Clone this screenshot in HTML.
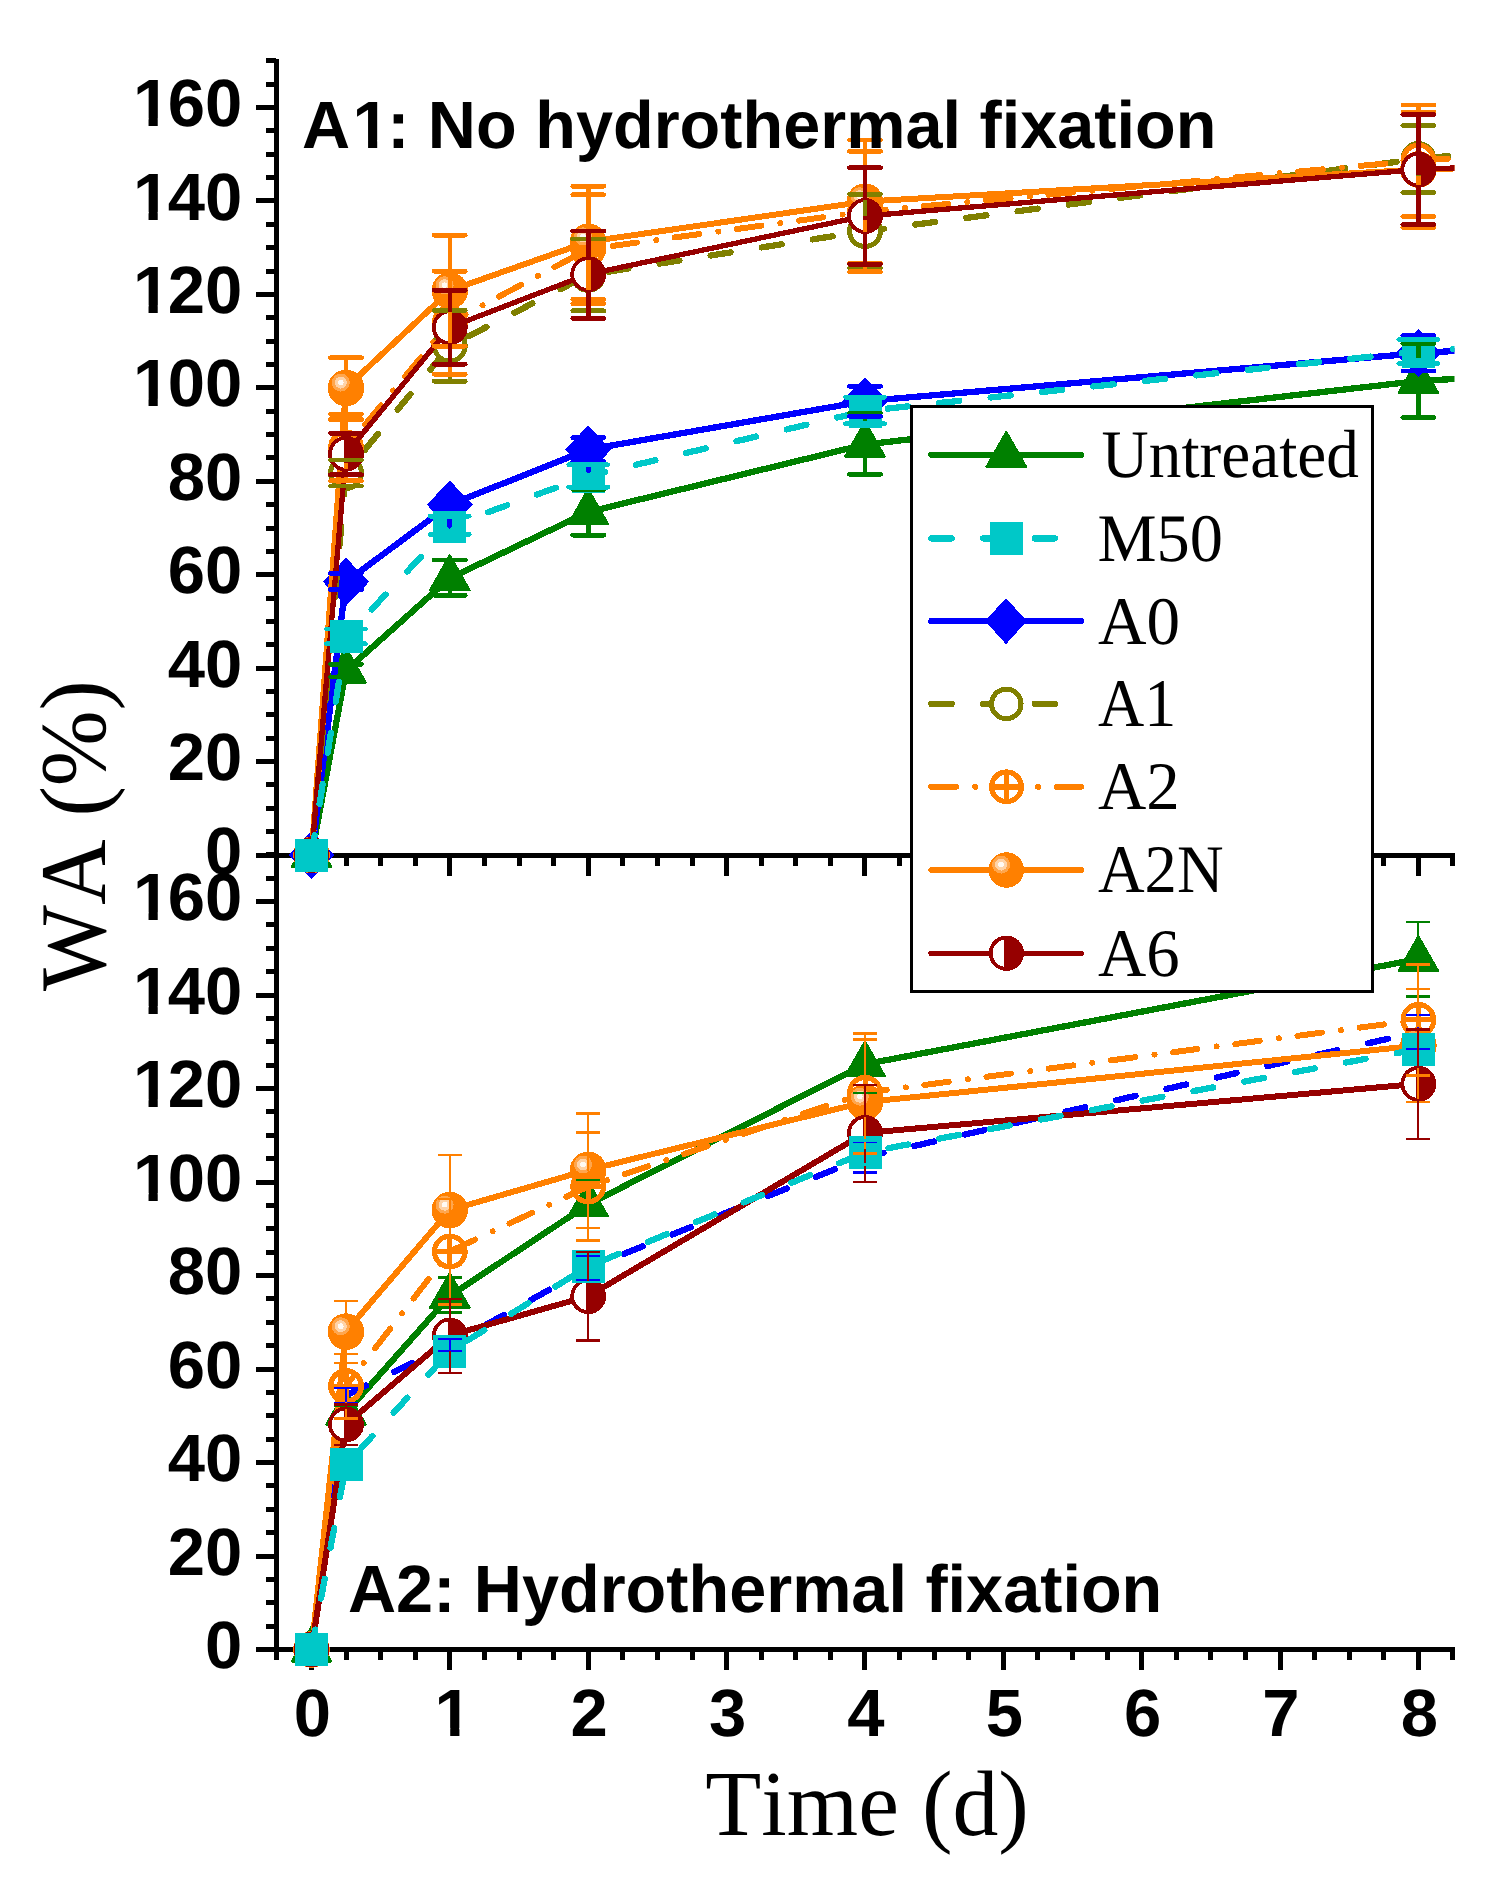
<!DOCTYPE html>
<html><head><meta charset="utf-8"><title>WA vs Time</title>
<style>
html,body{margin:0;padding:0;background:#fff}
svg{display:block}
.sb{font-family:"Liberation Sans",Arial,sans-serif;font-weight:bold;font-size:67px;fill:#000}
.sr{font-family:"Liberation Serif","Times New Roman",serif;fill:#000;font-kerning:none}
</style></head><body>
<svg width="1500" height="1892" viewBox="0 0 1500 1892" shape-rendering="crispEdges" text-rendering="geometricPrecision">
<defs><clipPath id="cl"><rect x="270" y="40" width="1184.5" height="840"/></clipPath></defs>
<rect width="1500" height="1892" fill="#fff"/>
<g id="axes-top"><rect x="274" y="59.0" width="5" height="798.5" fill="#000"/><rect x="274" y="852.5" width="1181" height="5" fill="#000"/><rect x="256" y="852.5" width="20" height="5" fill="#000"/><rect x="266" y="829.1" width="10" height="5" fill="#000"/><rect x="266" y="805.8" width="10" height="5" fill="#000"/><rect x="266" y="782.4" width="10" height="5" fill="#000"/><rect x="256" y="759.1" width="20" height="5" fill="#000"/><rect x="266" y="735.7" width="10" height="5" fill="#000"/><rect x="266" y="712.3" width="10" height="5" fill="#000"/><rect x="266" y="689.0" width="10" height="5" fill="#000"/><rect x="256" y="665.6" width="20" height="5" fill="#000"/><rect x="266" y="642.3" width="10" height="5" fill="#000"/><rect x="266" y="618.9" width="10" height="5" fill="#000"/><rect x="266" y="595.5" width="10" height="5" fill="#000"/><rect x="256" y="572.2" width="20" height="5" fill="#000"/><rect x="266" y="548.8" width="10" height="5" fill="#000"/><rect x="266" y="525.5" width="10" height="5" fill="#000"/><rect x="266" y="502.1" width="10" height="5" fill="#000"/><rect x="256" y="478.7" width="20" height="5" fill="#000"/><rect x="266" y="455.4" width="10" height="5" fill="#000"/><rect x="266" y="432.0" width="10" height="5" fill="#000"/><rect x="266" y="408.7" width="10" height="5" fill="#000"/><rect x="256" y="385.3" width="20" height="5" fill="#000"/><rect x="266" y="361.9" width="10" height="5" fill="#000"/><rect x="266" y="338.6" width="10" height="5" fill="#000"/><rect x="266" y="315.2" width="10" height="5" fill="#000"/><rect x="256" y="291.9" width="20" height="5" fill="#000"/><rect x="266" y="268.5" width="10" height="5" fill="#000"/><rect x="266" y="245.1" width="10" height="5" fill="#000"/><rect x="266" y="221.8" width="10" height="5" fill="#000"/><rect x="256" y="198.4" width="20" height="5" fill="#000"/><rect x="266" y="175.1" width="10" height="5" fill="#000"/><rect x="266" y="151.7" width="10" height="5" fill="#000"/><rect x="266" y="128.3" width="10" height="5" fill="#000"/><rect x="256" y="105.0" width="20" height="5" fill="#000"/><rect x="266" y="81.6" width="10" height="5" fill="#000"/><rect x="266" y="58.3" width="10" height="5" fill="#000"/><rect x="274.0" y="855.0" width="5" height="10.5" fill="#000"/><rect x="308.9" y="855.0" width="5" height="20.5" fill="#000"/><rect x="343.5" y="855.0" width="5" height="10.5" fill="#000"/><rect x="378.1" y="855.0" width="5" height="10.5" fill="#000"/><rect x="412.7" y="855.0" width="5" height="10.5" fill="#000"/><rect x="447.3" y="855.0" width="5" height="20.5" fill="#000"/><rect x="481.9" y="855.0" width="5" height="10.5" fill="#000"/><rect x="516.5" y="855.0" width="5" height="10.5" fill="#000"/><rect x="551.1" y="855.0" width="5" height="10.5" fill="#000"/><rect x="585.7" y="855.0" width="5" height="20.5" fill="#000"/><rect x="620.3" y="855.0" width="5" height="10.5" fill="#000"/><rect x="654.9" y="855.0" width="5" height="10.5" fill="#000"/><rect x="689.5" y="855.0" width="5" height="10.5" fill="#000"/><rect x="724.1" y="855.0" width="5" height="20.5" fill="#000"/><rect x="758.7" y="855.0" width="5" height="10.5" fill="#000"/><rect x="793.2" y="855.0" width="5" height="10.5" fill="#000"/><rect x="827.8" y="855.0" width="5" height="10.5" fill="#000"/><rect x="862.4" y="855.0" width="5" height="20.5" fill="#000"/><rect x="897.0" y="855.0" width="5" height="10.5" fill="#000"/><rect x="931.6" y="855.0" width="5" height="10.5" fill="#000"/><rect x="966.2" y="855.0" width="5" height="10.5" fill="#000"/><rect x="1000.8" y="855.0" width="5" height="20.5" fill="#000"/><rect x="1035.4" y="855.0" width="5" height="10.5" fill="#000"/><rect x="1070.0" y="855.0" width="5" height="10.5" fill="#000"/><rect x="1104.6" y="855.0" width="5" height="10.5" fill="#000"/><rect x="1139.2" y="855.0" width="5" height="20.5" fill="#000"/><rect x="1173.8" y="855.0" width="5" height="10.5" fill="#000"/><rect x="1208.4" y="855.0" width="5" height="10.5" fill="#000"/><rect x="1242.9" y="855.0" width="5" height="10.5" fill="#000"/><rect x="1277.5" y="855.0" width="5" height="20.5" fill="#000"/><rect x="1312.1" y="855.0" width="5" height="10.5" fill="#000"/><rect x="1346.7" y="855.0" width="5" height="10.5" fill="#000"/><rect x="1381.3" y="855.0" width="5" height="10.5" fill="#000"/><rect x="1415.9" y="855.0" width="5" height="20.5" fill="#000"/><rect x="1450.0" y="855.0" width="5" height="10.5" fill="#000"/></g>
<g id="plot-top" shape-rendering="crispEdges"><path d="M311.5 855.0 L346.0 670.6 L449.8 578.2 L588.2 512.0 L865.0 444.5 L1418.4 381.0 L1475.0 377.8" fill="none" stroke="#008000" stroke-width="6.3" stroke-linecap="round" stroke-linejoin="round" clip-path="url(#cl)"/><polygon points="311.5,832.0 291.6,867.0 331.4,867.0" fill="#008000" stroke="#008000" stroke-width="2" stroke-linejoin="round"/><polygon points="346.0,647.6 326.1,682.6 365.9,682.6" fill="#008000" stroke="#008000" stroke-width="2" stroke-linejoin="round"/><polygon points="449.8,555.2 429.9,590.2 469.7,590.2" fill="#008000" stroke="#008000" stroke-width="2" stroke-linejoin="round"/><polygon points="588.2,489.0 568.3,524.0 608.1,524.0" fill="#008000" stroke="#008000" stroke-width="2" stroke-linejoin="round"/><polygon points="865.0,421.5 845.1,456.5 884.9,456.5" fill="#008000" stroke="#008000" stroke-width="2" stroke-linejoin="round"/><polygon points="1418.4,358.0 1398.5,393.0 1438.3,393.0" fill="#008000" stroke="#008000" stroke-width="2" stroke-linejoin="round"/>
<path d="M311.5 855.0 L346.0 581.9 L449.8 504.7 L588.2 449.6 L865.0 401.2 L1418.4 353.2 L1475.0 349.7" fill="none" stroke="#0000ff" stroke-width="6.3" stroke-linecap="round" stroke-linejoin="round" clip-path="url(#cl)"/><polygon points="311.5,830.8 334.5,855.0 311.5,879.2 288.5,855.0" fill="#0000ff"/><polygon points="346.0,557.7 369.0,581.9 346.0,606.1 323.0,581.9" fill="#0000ff"/><polygon points="449.8,480.5 472.8,504.7 449.8,528.9 426.8,504.7" fill="#0000ff"/><polygon points="588.2,425.4 611.2,449.6 588.2,473.8 565.2,449.6" fill="#0000ff"/><polygon points="865.0,377.0 888.0,401.2 865.0,425.4 842.0,401.2" fill="#0000ff"/><polygon points="1418.4,329.0 1441.4,353.2 1418.4,377.4 1395.4,353.2" fill="#0000ff"/>
<path d="M311.5 855.0 L346.0 473.0 L449.8 345.8 L588.2 274.9 L865.0 231.1 L1418.4 159.0 L1475.0 153.4" fill="none" stroke="#808000" stroke-width="6.3" stroke-linecap="round" stroke-linejoin="round" stroke-dasharray="20.2 31.5" clip-path="url(#cl)"/><circle cx="311.5" cy="855.0" r="15.4" fill="#fff" stroke="#808000" stroke-width="5"/><circle cx="346.0" cy="473.0" r="15.4" fill="#fff" stroke="#808000" stroke-width="5"/><circle cx="449.8" cy="345.8" r="15.4" fill="#fff" stroke="#808000" stroke-width="5"/><circle cx="588.2" cy="274.9" r="15.4" fill="#fff" stroke="#808000" stroke-width="5"/><circle cx="865.0" cy="231.1" r="15.4" fill="#fff" stroke="#808000" stroke-width="5"/><circle cx="1418.4" cy="159.0" r="15.4" fill="#fff" stroke="#808000" stroke-width="5"/>
<path d="M311.5 855.0 L346.0 447.5 L449.8 322.7 L588.2 249.2 L865.0 211.6 L1418.4 160.5 L1475.0 157.3" fill="none" stroke="#ff8000" stroke-width="6" stroke-linecap="round" stroke-linejoin="round" stroke-dasharray="24.7 19.3 0.01 18.7" clip-path="url(#cl)"/><circle cx="311.5" cy="855.0" r="15.3" fill="none" stroke="#ff8000" stroke-width="5.2"/><path d="M296.2 855.0H326.8M311.5 839.7V870.3" stroke="#ff8000" stroke-width="5" fill="none"/><circle cx="346.0" cy="447.5" r="15.3" fill="none" stroke="#ff8000" stroke-width="5.2"/><path d="M330.7 447.5H361.3M346.0 432.2V462.8" stroke="#ff8000" stroke-width="5" fill="none"/><circle cx="449.8" cy="322.7" r="15.3" fill="none" stroke="#ff8000" stroke-width="5.2"/><path d="M434.5 322.7H465.1M449.8 307.4V338.0" stroke="#ff8000" stroke-width="5" fill="none"/><circle cx="588.2" cy="249.2" r="15.3" fill="none" stroke="#ff8000" stroke-width="5.2"/><path d="M572.9 249.2H603.5M588.2 233.9V264.5" stroke="#ff8000" stroke-width="5" fill="none"/><circle cx="865.0" cy="211.6" r="15.3" fill="none" stroke="#ff8000" stroke-width="5.2"/><path d="M849.7 211.6H880.3M865.0 196.3V226.9" stroke="#ff8000" stroke-width="5" fill="none"/><circle cx="1418.4" cy="160.5" r="15.3" fill="none" stroke="#ff8000" stroke-width="5.2"/><path d="M1403.1 160.5H1433.7M1418.4 145.2V175.8" stroke="#ff8000" stroke-width="5" fill="none"/>
<path d="M311.5 855.0 L346.0 388.0 L449.8 290.6 L588.2 241.7 L865.0 201.6 L1418.4 169.5 L1475.0 167.9" fill="none" stroke="#ff8000" stroke-width="6" stroke-linecap="round" stroke-linejoin="round" clip-path="url(#cl)"/><circle cx="311.5" cy="855.0" r="18.3" fill="#ff8000"/><circle cx="306.3" cy="849.6" r="9" fill="#ffa64d"/><circle cx="306.3" cy="849.6" r="6" fill="#ffd3a8"/><circle cx="306.3" cy="849.6" r="2.8" fill="#fffaf5"/><circle cx="346.0" cy="388.0" r="18.3" fill="#ff8000"/><circle cx="340.8" cy="382.6" r="9" fill="#ffa64d"/><circle cx="340.8" cy="382.6" r="6" fill="#ffd3a8"/><circle cx="340.8" cy="382.6" r="2.8" fill="#fffaf5"/><circle cx="449.8" cy="290.6" r="18.3" fill="#ff8000"/><circle cx="444.6" cy="285.2" r="9" fill="#ffa64d"/><circle cx="444.6" cy="285.2" r="6" fill="#ffd3a8"/><circle cx="444.6" cy="285.2" r="2.8" fill="#fffaf5"/><circle cx="588.2" cy="241.7" r="18.3" fill="#ff8000"/><circle cx="583.0" cy="236.3" r="9" fill="#ffa64d"/><circle cx="583.0" cy="236.3" r="6" fill="#ffd3a8"/><circle cx="583.0" cy="236.3" r="2.8" fill="#fffaf5"/><circle cx="865.0" cy="201.6" r="18.3" fill="#ff8000"/><circle cx="859.8" cy="196.2" r="9" fill="#ffa64d"/><circle cx="859.8" cy="196.2" r="6" fill="#ffd3a8"/><circle cx="859.8" cy="196.2" r="2.8" fill="#fffaf5"/><circle cx="1418.4" cy="169.5" r="18.3" fill="#ff8000"/><circle cx="1413.2" cy="164.1" r="9" fill="#ffa64d"/><circle cx="1413.2" cy="164.1" r="6" fill="#ffd3a8"/><circle cx="1413.2" cy="164.1" r="2.8" fill="#fffaf5"/>
<path d="M311.5 855.0 L346.0 453.8 L449.8 327.3 L588.2 274.2 L865.0 216.0 L1418.4 169.5 L1475.0 167.1" fill="none" stroke="#960000" stroke-width="5.3" stroke-linecap="round" stroke-linejoin="round" clip-path="url(#cl)"/><circle cx="311.5" cy="855.0" r="16" fill="#fff" stroke="#960000" stroke-width="3.8"/><path d="M309.2 839.0H311.5A16 16 0 0 1 311.5 871.0H309.2Z" fill="#960000"/><circle cx="346.0" cy="453.8" r="16" fill="#fff" stroke="#960000" stroke-width="3.8"/><path d="M343.7 437.8H346.0A16 16 0 0 1 346.0 469.8H343.7Z" fill="#960000"/><circle cx="449.8" cy="327.3" r="16" fill="#fff" stroke="#960000" stroke-width="3.8"/><path d="M447.5 311.3H449.8A16 16 0 0 1 449.8 343.3H447.5Z" fill="#960000"/><circle cx="588.2" cy="274.2" r="16" fill="#fff" stroke="#960000" stroke-width="3.8"/><path d="M585.9 258.2H588.2A16 16 0 0 1 588.2 290.2H585.9Z" fill="#960000"/><circle cx="865.0" cy="216.0" r="16" fill="#fff" stroke="#960000" stroke-width="3.8"/><path d="M862.7 200.0H865.0A16 16 0 0 1 865.0 232.0H862.7Z" fill="#960000"/><circle cx="1418.4" cy="169.5" r="16" fill="#fff" stroke="#960000" stroke-width="3.8"/><path d="M1416.1 153.5H1418.4A16 16 0 0 1 1418.4 185.5H1416.1Z" fill="#960000"/>
<path d="M311.5 855.0 L346.0 636.8 L449.8 526.0 L588.2 476.0 L865.0 411.0 L1418.4 351.5 L1475.0 347.5" fill="none" stroke="#00c8c8" stroke-width="6.3" stroke-linecap="round" stroke-linejoin="round" stroke-dasharray="20.2 31.5" clip-path="url(#cl)"/><rect x="295.0" y="838.5" width="33" height="33" fill="#00c8c8"/><rect x="329.5" y="620.3" width="33" height="33" fill="#00c8c8"/><rect x="433.3" y="509.5" width="33" height="33" fill="#00c8c8"/><rect x="571.7" y="459.5" width="33" height="33" fill="#00c8c8"/><rect x="848.5" y="394.5" width="33" height="33" fill="#00c8c8"/><rect x="1401.9" y="335.0" width="33" height="33" fill="#00c8c8"/>
<path d="M330.5 664.2H361.5" stroke="#008000" stroke-width="4.8" stroke-linecap="round" fill="none"/><path d="M330.5 677.0H361.5" stroke="#008000" stroke-width="4.8" stroke-linecap="round" fill="none"/><path d="M449.8 590.7V595.2" stroke="#008000" stroke-width="4.6" fill="none"/><path d="M434.3 560.0H465.3" stroke="#008000" stroke-width="4.8" stroke-linecap="round" fill="none"/><path d="M434.3 595.2H465.3" stroke="#008000" stroke-width="4.8" stroke-linecap="round" fill="none"/><path d="M588.2 524.5V535.1" stroke="#008000" stroke-width="4.6" fill="none"/><path d="M572.7 489.4H603.7" stroke="#008000" stroke-width="4.8" stroke-linecap="round" fill="none"/><path d="M572.7 535.1H603.7" stroke="#008000" stroke-width="4.8" stroke-linecap="round" fill="none"/><path d="M865.0 413.2V421.5" stroke="#008000" stroke-width="4.6" fill="none"/><path d="M865.0 457.0V474.4" stroke="#008000" stroke-width="4.6" fill="none"/><path d="M849.5 413.2H880.5" stroke="#008000" stroke-width="4.8" stroke-linecap="round" fill="none"/><path d="M849.5 474.4H880.5" stroke="#008000" stroke-width="4.8" stroke-linecap="round" fill="none"/><path d="M1418.4 343.5V358.0" stroke="#008000" stroke-width="4.6" fill="none"/><path d="M1418.4 393.5V417.5" stroke="#008000" stroke-width="4.6" fill="none"/><path d="M1402.9 343.5H1433.9" stroke="#008000" stroke-width="4.8" stroke-linecap="round" fill="none"/><path d="M1402.9 417.5H1433.9" stroke="#008000" stroke-width="4.8" stroke-linecap="round" fill="none"/>
<path d="M330.5 573.3H361.5" stroke="#0000ff" stroke-width="4.8" stroke-linecap="round" fill="none"/><path d="M330.5 589.5H361.5" stroke="#0000ff" stroke-width="4.8" stroke-linecap="round" fill="none"/><path d="M434.3 500.5H465.3" stroke="#0000ff" stroke-width="4.8" stroke-linecap="round" fill="none"/><path d="M434.3 509.0H465.3" stroke="#0000ff" stroke-width="4.8" stroke-linecap="round" fill="none"/><path d="M572.7 437.6H603.7" stroke="#0000ff" stroke-width="4.8" stroke-linecap="round" fill="none"/><path d="M572.7 461.6H603.7" stroke="#0000ff" stroke-width="4.8" stroke-linecap="round" fill="none"/><path d="M849.5 386.4H880.5" stroke="#0000ff" stroke-width="4.8" stroke-linecap="round" fill="none"/><path d="M849.5 416.4H880.5" stroke="#0000ff" stroke-width="4.8" stroke-linecap="round" fill="none"/><path d="M1402.9 335.5H1433.9" stroke="#0000ff" stroke-width="4.8" stroke-linecap="round" fill="none"/><path d="M1402.9 371.0H1433.9" stroke="#0000ff" stroke-width="4.8" stroke-linecap="round" fill="none"/>
<path d="M330.5 460.0H361.5" stroke="#808000" stroke-width="4.8" stroke-linecap="round" fill="none"/><path d="M330.5 486.0H361.5" stroke="#808000" stroke-width="4.8" stroke-linecap="round" fill="none"/><path d="M449.8 310.4V330.2" stroke="#808000" stroke-width="4.6" fill="none"/><path d="M449.8 361.4V381.2" stroke="#808000" stroke-width="4.6" fill="none"/><path d="M434.3 310.4H465.3" stroke="#808000" stroke-width="4.8" stroke-linecap="round" fill="none"/><path d="M434.3 381.2H465.3" stroke="#808000" stroke-width="4.8" stroke-linecap="round" fill="none"/><path d="M588.2 239.0V259.3" stroke="#808000" stroke-width="4.6" fill="none"/><path d="M588.2 290.5V310.8" stroke="#808000" stroke-width="4.6" fill="none"/><path d="M572.7 239.0H603.7" stroke="#808000" stroke-width="4.8" stroke-linecap="round" fill="none"/><path d="M572.7 310.8H603.7" stroke="#808000" stroke-width="4.8" stroke-linecap="round" fill="none"/><path d="M865.0 194.2V215.5" stroke="#808000" stroke-width="4.6" fill="none"/><path d="M865.0 246.7V268.0" stroke="#808000" stroke-width="4.6" fill="none"/><path d="M849.5 194.2H880.5" stroke="#808000" stroke-width="4.8" stroke-linecap="round" fill="none"/><path d="M849.5 268.0H880.5" stroke="#808000" stroke-width="4.8" stroke-linecap="round" fill="none"/><path d="M1418.4 125.5V143.4" stroke="#808000" stroke-width="4.6" fill="none"/><path d="M1418.4 174.6V192.5" stroke="#808000" stroke-width="4.6" fill="none"/><path d="M1402.9 125.5H1433.9" stroke="#808000" stroke-width="4.8" stroke-linecap="round" fill="none"/><path d="M1402.9 192.5H1433.9" stroke="#808000" stroke-width="4.8" stroke-linecap="round" fill="none"/>
<path d="M346.0 414.2V431.9" stroke="#ff8000" stroke-width="4.6" fill="none"/><path d="M346.0 463.1V480.8" stroke="#ff8000" stroke-width="4.6" fill="none"/><path d="M330.5 414.2H361.5" stroke="#ff8000" stroke-width="4.8" stroke-linecap="round" fill="none"/><path d="M330.5 480.8H361.5" stroke="#ff8000" stroke-width="4.8" stroke-linecap="round" fill="none"/><path d="M449.8 271.3V307.1" stroke="#ff8000" stroke-width="4.6" fill="none"/><path d="M449.8 338.3V374.2" stroke="#ff8000" stroke-width="4.6" fill="none"/><path d="M434.3 271.3H465.3" stroke="#ff8000" stroke-width="4.8" stroke-linecap="round" fill="none"/><path d="M434.3 374.2H465.3" stroke="#ff8000" stroke-width="4.8" stroke-linecap="round" fill="none"/><path d="M588.2 194.7V233.6" stroke="#ff8000" stroke-width="4.6" fill="none"/><path d="M588.2 264.8V303.7" stroke="#ff8000" stroke-width="4.6" fill="none"/><path d="M572.7 194.7H603.7" stroke="#ff8000" stroke-width="4.8" stroke-linecap="round" fill="none"/><path d="M572.7 303.7H603.7" stroke="#ff8000" stroke-width="4.8" stroke-linecap="round" fill="none"/><path d="M865.0 151.4V196.0" stroke="#ff8000" stroke-width="4.6" fill="none"/><path d="M865.0 227.2V271.8" stroke="#ff8000" stroke-width="4.6" fill="none"/><path d="M849.5 151.4H880.5" stroke="#ff8000" stroke-width="4.8" stroke-linecap="round" fill="none"/><path d="M849.5 271.8H880.5" stroke="#ff8000" stroke-width="4.8" stroke-linecap="round" fill="none"/><path d="M1418.4 105.0V144.9" stroke="#ff8000" stroke-width="4.6" fill="none"/><path d="M1418.4 176.1V216.5" stroke="#ff8000" stroke-width="4.6" fill="none"/><path d="M1402.9 105.0H1433.9" stroke="#ff8000" stroke-width="4.8" stroke-linecap="round" fill="none"/><path d="M1402.9 216.5H1433.9" stroke="#ff8000" stroke-width="4.8" stroke-linecap="round" fill="none"/>
<path d="M346.0 357.6V369.7" stroke="#ff8000" stroke-width="4.6" fill="none"/><path d="M346.0 406.3V419.5" stroke="#ff8000" stroke-width="4.6" fill="none"/><path d="M330.5 357.6H361.5" stroke="#ff8000" stroke-width="4.8" stroke-linecap="round" fill="none"/><path d="M330.5 419.5H361.5" stroke="#ff8000" stroke-width="4.8" stroke-linecap="round" fill="none"/><path d="M449.8 235.1V272.3" stroke="#ff8000" stroke-width="4.6" fill="none"/><path d="M449.8 308.9V346.1" stroke="#ff8000" stroke-width="4.6" fill="none"/><path d="M434.3 235.1H465.3" stroke="#ff8000" stroke-width="4.8" stroke-linecap="round" fill="none"/><path d="M434.3 346.1H465.3" stroke="#ff8000" stroke-width="4.8" stroke-linecap="round" fill="none"/><path d="M588.2 186.2V223.4" stroke="#ff8000" stroke-width="4.6" fill="none"/><path d="M588.2 260.0V299.4" stroke="#ff8000" stroke-width="4.6" fill="none"/><path d="M572.7 186.2H603.7" stroke="#ff8000" stroke-width="4.8" stroke-linecap="round" fill="none"/><path d="M572.7 299.4H603.7" stroke="#ff8000" stroke-width="4.8" stroke-linecap="round" fill="none"/><path d="M865.0 140.0V183.3" stroke="#ff8000" stroke-width="4.6" fill="none"/><path d="M865.0 219.9V263.2" stroke="#ff8000" stroke-width="4.6" fill="none"/><path d="M849.5 140.0H880.5" stroke="#ff8000" stroke-width="4.8" stroke-linecap="round" fill="none"/><path d="M849.5 263.2H880.5" stroke="#ff8000" stroke-width="4.8" stroke-linecap="round" fill="none"/><path d="M1418.4 112.0V151.2" stroke="#ff8000" stroke-width="4.6" fill="none"/><path d="M1418.4 187.8V227.5" stroke="#ff8000" stroke-width="4.6" fill="none"/><path d="M1402.9 112.0H1433.9" stroke="#ff8000" stroke-width="4.8" stroke-linecap="round" fill="none"/><path d="M1402.9 227.5H1433.9" stroke="#ff8000" stroke-width="4.8" stroke-linecap="round" fill="none"/>
<path d="M346.0 433.2V438.2" stroke="#960000" stroke-width="4.6" fill="none"/><path d="M346.0 469.4V474.6" stroke="#960000" stroke-width="4.6" fill="none"/><path d="M330.5 433.2H361.5" stroke="#960000" stroke-width="4.8" stroke-linecap="round" fill="none"/><path d="M330.5 474.6H361.5" stroke="#960000" stroke-width="4.8" stroke-linecap="round" fill="none"/><path d="M449.8 290.3V311.7" stroke="#960000" stroke-width="4.6" fill="none"/><path d="M449.8 342.9V364.1" stroke="#960000" stroke-width="4.6" fill="none"/><path d="M434.3 290.3H465.3" stroke="#960000" stroke-width="4.8" stroke-linecap="round" fill="none"/><path d="M434.3 364.1H465.3" stroke="#960000" stroke-width="4.8" stroke-linecap="round" fill="none"/><path d="M588.2 230.9V258.6" stroke="#960000" stroke-width="4.6" fill="none"/><path d="M588.2 289.8V318.4" stroke="#960000" stroke-width="4.6" fill="none"/><path d="M572.7 230.9H603.7" stroke="#960000" stroke-width="4.8" stroke-linecap="round" fill="none"/><path d="M572.7 318.4H603.7" stroke="#960000" stroke-width="4.8" stroke-linecap="round" fill="none"/><path d="M865.0 167.6V200.4" stroke="#960000" stroke-width="4.6" fill="none"/><path d="M865.0 231.6V264.1" stroke="#960000" stroke-width="4.6" fill="none"/><path d="M849.5 167.6H880.5" stroke="#960000" stroke-width="4.8" stroke-linecap="round" fill="none"/><path d="M849.5 264.1H880.5" stroke="#960000" stroke-width="4.8" stroke-linecap="round" fill="none"/><path d="M1418.4 114.5V153.9" stroke="#960000" stroke-width="4.6" fill="none"/><path d="M1418.4 185.1V224.5" stroke="#960000" stroke-width="4.6" fill="none"/><path d="M1402.9 114.5H1433.9" stroke="#960000" stroke-width="4.8" stroke-linecap="round" fill="none"/><path d="M1402.9 224.5H1433.9" stroke="#960000" stroke-width="4.8" stroke-linecap="round" fill="none"/>
<path d="M326.5 629.0H365.5" stroke="#00c8c8" stroke-width="4.8" stroke-linecap="round" fill="none"/><path d="M326.5 643.7H365.5" stroke="#00c8c8" stroke-width="4.8" stroke-linecap="round" fill="none"/><path d="M430.3 516.1H469.3" stroke="#00c8c8" stroke-width="4.8" stroke-linecap="round" fill="none"/><path d="M430.3 534.5H469.3" stroke="#00c8c8" stroke-width="4.8" stroke-linecap="round" fill="none"/><path d="M568.7 464.7H607.7" stroke="#00c8c8" stroke-width="4.8" stroke-linecap="round" fill="none"/><path d="M568.7 487.1H607.7" stroke="#00c8c8" stroke-width="4.8" stroke-linecap="round" fill="none"/><path d="M845.5 397.2H884.5" stroke="#00c8c8" stroke-width="4.8" stroke-linecap="round" fill="none"/><path d="M845.5 423.6H884.5" stroke="#00c8c8" stroke-width="4.8" stroke-linecap="round" fill="none"/><path d="M1398.9 339.5H1437.9" stroke="#00c8c8" stroke-width="4.8" stroke-linecap="round" fill="none"/><path d="M1398.9 363.5H1437.9" stroke="#00c8c8" stroke-width="4.8" stroke-linecap="round" fill="none"/>
<polygon points="447.4,518.5 452.2,518.5 452.2,526.6 449.8,528.9 447.4,526.6" fill="#0000ff"/><polygon points="585.8,467.1 590.6,467.1 590.6,471.5 588.2,473.8 585.8,471.5" fill="#0000ff"/></g>
<g id="axes-bottom"><rect x="274" y="855.0" width="5" height="797.0" fill="#000"/><rect x="274" y="1647.0" width="1181" height="5" fill="#000"/><rect x="256" y="1647.0" width="20" height="5" fill="#000"/><rect x="266" y="1623.6" width="10" height="5" fill="#000"/><rect x="266" y="1600.2" width="10" height="5" fill="#000"/><rect x="266" y="1576.9" width="10" height="5" fill="#000"/><rect x="256" y="1553.5" width="20" height="5" fill="#000"/><rect x="266" y="1530.1" width="10" height="5" fill="#000"/><rect x="266" y="1506.8" width="10" height="5" fill="#000"/><rect x="266" y="1483.4" width="10" height="5" fill="#000"/><rect x="256" y="1460.0" width="20" height="5" fill="#000"/><rect x="266" y="1436.6" width="10" height="5" fill="#000"/><rect x="266" y="1413.2" width="10" height="5" fill="#000"/><rect x="266" y="1389.9" width="10" height="5" fill="#000"/><rect x="256" y="1366.5" width="20" height="5" fill="#000"/><rect x="266" y="1343.1" width="10" height="5" fill="#000"/><rect x="266" y="1319.8" width="10" height="5" fill="#000"/><rect x="266" y="1296.4" width="10" height="5" fill="#000"/><rect x="256" y="1273.0" width="20" height="5" fill="#000"/><rect x="266" y="1249.6" width="10" height="5" fill="#000"/><rect x="266" y="1226.2" width="10" height="5" fill="#000"/><rect x="266" y="1202.9" width="10" height="5" fill="#000"/><rect x="256" y="1179.5" width="20" height="5" fill="#000"/><rect x="266" y="1156.1" width="10" height="5" fill="#000"/><rect x="266" y="1132.8" width="10" height="5" fill="#000"/><rect x="266" y="1109.4" width="10" height="5" fill="#000"/><rect x="256" y="1086.0" width="20" height="5" fill="#000"/><rect x="266" y="1062.6" width="10" height="5" fill="#000"/><rect x="266" y="1039.2" width="10" height="5" fill="#000"/><rect x="266" y="1015.9" width="10" height="5" fill="#000"/><rect x="256" y="992.5" width="20" height="5" fill="#000"/><rect x="266" y="969.1" width="10" height="5" fill="#000"/><rect x="266" y="945.8" width="10" height="5" fill="#000"/><rect x="266" y="922.4" width="10" height="5" fill="#000"/><rect x="256" y="899.0" width="20" height="5" fill="#000"/><rect x="266" y="875.6" width="10" height="5" fill="#000"/><rect x="266" y="852.2" width="10" height="5" fill="#000"/><rect x="274.0" y="1649.5" width="5" height="10.5" fill="#000"/><rect x="308.9" y="1649.5" width="5" height="20.5" fill="#000"/><rect x="343.5" y="1649.5" width="5" height="10.5" fill="#000"/><rect x="378.1" y="1649.5" width="5" height="10.5" fill="#000"/><rect x="412.7" y="1649.5" width="5" height="10.5" fill="#000"/><rect x="447.3" y="1649.5" width="5" height="20.5" fill="#000"/><rect x="481.9" y="1649.5" width="5" height="10.5" fill="#000"/><rect x="516.5" y="1649.5" width="5" height="10.5" fill="#000"/><rect x="551.1" y="1649.5" width="5" height="10.5" fill="#000"/><rect x="585.7" y="1649.5" width="5" height="20.5" fill="#000"/><rect x="620.3" y="1649.5" width="5" height="10.5" fill="#000"/><rect x="654.9" y="1649.5" width="5" height="10.5" fill="#000"/><rect x="689.5" y="1649.5" width="5" height="10.5" fill="#000"/><rect x="724.1" y="1649.5" width="5" height="20.5" fill="#000"/><rect x="758.7" y="1649.5" width="5" height="10.5" fill="#000"/><rect x="793.2" y="1649.5" width="5" height="10.5" fill="#000"/><rect x="827.8" y="1649.5" width="5" height="10.5" fill="#000"/><rect x="862.4" y="1649.5" width="5" height="20.5" fill="#000"/><rect x="897.0" y="1649.5" width="5" height="10.5" fill="#000"/><rect x="931.6" y="1649.5" width="5" height="10.5" fill="#000"/><rect x="966.2" y="1649.5" width="5" height="10.5" fill="#000"/><rect x="1000.8" y="1649.5" width="5" height="20.5" fill="#000"/><rect x="1035.4" y="1649.5" width="5" height="10.5" fill="#000"/><rect x="1070.0" y="1649.5" width="5" height="10.5" fill="#000"/><rect x="1104.6" y="1649.5" width="5" height="10.5" fill="#000"/><rect x="1139.2" y="1649.5" width="5" height="20.5" fill="#000"/><rect x="1173.8" y="1649.5" width="5" height="10.5" fill="#000"/><rect x="1208.4" y="1649.5" width="5" height="10.5" fill="#000"/><rect x="1242.9" y="1649.5" width="5" height="10.5" fill="#000"/><rect x="1277.5" y="1649.5" width="5" height="20.5" fill="#000"/><rect x="1312.1" y="1649.5" width="5" height="10.5" fill="#000"/><rect x="1346.7" y="1649.5" width="5" height="10.5" fill="#000"/><rect x="1381.3" y="1649.5" width="5" height="10.5" fill="#000"/><rect x="1415.9" y="1649.5" width="5" height="20.5" fill="#000"/><rect x="1450.0" y="1649.5" width="5" height="10.5" fill="#000"/></g>
<g id="plot-bottom"><path d="M311.5 1649.5 L346.0 1412.7 L449.8 1295.8 L588.2 1204.4 L865.0 1064.2 L1418.4 959.1" fill="none" stroke="#008000" stroke-width="6.3" stroke-linecap="round" stroke-linejoin="round"/><polygon points="311.5,1626.5 291.6,1661.5 331.4,1661.5" fill="#008000" stroke="#008000" stroke-width="2" stroke-linejoin="round"/><polygon points="346.0,1389.7 326.1,1424.7 365.9,1424.7" fill="#008000" stroke="#008000" stroke-width="2" stroke-linejoin="round"/><polygon points="449.8,1272.8 429.9,1307.8 469.7,1307.8" fill="#008000" stroke="#008000" stroke-width="2" stroke-linejoin="round"/><polygon points="588.2,1181.4 568.3,1216.4 608.1,1216.4" fill="#008000" stroke="#008000" stroke-width="2" stroke-linejoin="round"/><polygon points="865.0,1041.2 845.1,1076.2 884.9,1076.2" fill="#008000" stroke="#008000" stroke-width="2" stroke-linejoin="round"/><polygon points="1418.4,936.1 1398.5,971.1 1438.3,971.1" fill="#008000" stroke="#008000" stroke-width="2" stroke-linejoin="round"/>
<path d="M311.5 1649.5 L346.0 1395.4 L449.8 1344.8 L588.2 1268.2 L865.0 1157.1 L1418.4 1031.9" fill="none" stroke="#0000ff" stroke-width="6.3" stroke-linecap="round" stroke-linejoin="round" stroke-dasharray="20.2 31.5"/>
<path d="M311.5 1649.5 L346.0 1386.0 L449.8 1251.5 L588.2 1186.5 L865.0 1092.8 L1418.4 1019.9" fill="none" stroke="#ff8000" stroke-width="6" stroke-linecap="round" stroke-linejoin="round" stroke-dasharray="24.7 19.3 0.01 18.7"/><circle cx="311.5" cy="1649.5" r="15.3" fill="none" stroke="#ff8000" stroke-width="5.2"/><path d="M296.2 1649.5H326.8M311.5 1634.2V1664.8" stroke="#ff8000" stroke-width="5" fill="none"/><circle cx="346.0" cy="1386.0" r="15.3" fill="none" stroke="#ff8000" stroke-width="5.2"/><path d="M330.7 1386.0H361.3M346.0 1370.7V1401.3" stroke="#ff8000" stroke-width="5" fill="none"/><circle cx="449.8" cy="1251.5" r="15.3" fill="none" stroke="#ff8000" stroke-width="5.2"/><path d="M434.5 1251.5H465.1M449.8 1236.2V1266.8" stroke="#ff8000" stroke-width="5" fill="none"/><circle cx="588.2" cy="1186.5" r="15.3" fill="none" stroke="#ff8000" stroke-width="5.2"/><path d="M572.9 1186.5H603.5M588.2 1171.2V1201.8" stroke="#ff8000" stroke-width="5" fill="none"/><circle cx="865.0" cy="1092.8" r="15.3" fill="none" stroke="#ff8000" stroke-width="5.2"/><path d="M849.7 1092.8H880.3M865.0 1077.5V1108.1" stroke="#ff8000" stroke-width="5" fill="none"/><circle cx="1418.4" cy="1019.9" r="15.3" fill="none" stroke="#ff8000" stroke-width="5.2"/><path d="M1403.1 1019.9H1433.7M1418.4 1004.6V1035.2" stroke="#ff8000" stroke-width="5" fill="none"/>
<path d="M311.5 1649.5 L346.0 1331.6 L449.8 1210.1 L588.2 1169.9 L865.0 1102.1 L1418.4 1045.5" fill="none" stroke="#ff8000" stroke-width="6" stroke-linecap="round" stroke-linejoin="round"/><circle cx="311.5" cy="1649.5" r="18.3" fill="#ff8000"/><circle cx="306.3" cy="1644.1" r="9" fill="#ffa64d"/><circle cx="306.3" cy="1644.1" r="6" fill="#ffd3a8"/><circle cx="306.3" cy="1644.1" r="2.8" fill="#fffaf5"/><circle cx="346.0" cy="1331.6" r="18.3" fill="#ff8000"/><circle cx="340.8" cy="1326.2" r="9" fill="#ffa64d"/><circle cx="340.8" cy="1326.2" r="6" fill="#ffd3a8"/><circle cx="340.8" cy="1326.2" r="2.8" fill="#fffaf5"/><circle cx="449.8" cy="1210.1" r="18.3" fill="#ff8000"/><circle cx="444.6" cy="1204.7" r="9" fill="#ffa64d"/><circle cx="444.6" cy="1204.7" r="6" fill="#ffd3a8"/><circle cx="444.6" cy="1204.7" r="2.8" fill="#fffaf5"/><circle cx="588.2" cy="1169.9" r="18.3" fill="#ff8000"/><circle cx="583.0" cy="1164.5" r="9" fill="#ffa64d"/><circle cx="583.0" cy="1164.5" r="6" fill="#ffd3a8"/><circle cx="583.0" cy="1164.5" r="2.8" fill="#fffaf5"/><circle cx="865.0" cy="1102.1" r="18.3" fill="#ff8000"/><circle cx="859.8" cy="1096.7" r="9" fill="#ffa64d"/><circle cx="859.8" cy="1096.7" r="6" fill="#ffd3a8"/><circle cx="859.8" cy="1096.7" r="2.8" fill="#fffaf5"/><circle cx="1418.4" cy="1045.5" r="18.3" fill="#ff8000"/><circle cx="1413.2" cy="1040.1" r="9" fill="#ffa64d"/><circle cx="1413.2" cy="1040.1" r="6" fill="#ffd3a8"/><circle cx="1413.2" cy="1040.1" r="2.8" fill="#fffaf5"/>
<path d="M311.5 1649.5 L346.0 1424.5 L449.8 1335.5 L588.2 1296.2 L865.0 1133.0 L1418.4 1083.8" fill="none" stroke="#960000" stroke-width="6" stroke-linecap="round" stroke-linejoin="round"/><circle cx="311.5" cy="1649.5" r="16" fill="#fff" stroke="#960000" stroke-width="3.8"/><path d="M309.2 1633.5H311.5A16 16 0 0 1 311.5 1665.5H309.2Z" fill="#960000"/><circle cx="346.0" cy="1424.5" r="16" fill="#fff" stroke="#960000" stroke-width="3.8"/><path d="M343.7 1408.5H346.0A16 16 0 0 1 346.0 1440.5H343.7Z" fill="#960000"/><circle cx="449.8" cy="1335.5" r="16" fill="#fff" stroke="#960000" stroke-width="3.8"/><path d="M447.5 1319.5H449.8A16 16 0 0 1 449.8 1351.5H447.5Z" fill="#960000"/><circle cx="588.2" cy="1296.2" r="16" fill="#fff" stroke="#960000" stroke-width="3.8"/><path d="M585.9 1280.2H588.2A16 16 0 0 1 588.2 1312.2H585.9Z" fill="#960000"/><circle cx="865.0" cy="1133.0" r="16" fill="#fff" stroke="#960000" stroke-width="3.8"/><path d="M862.7 1117.0H865.0A16 16 0 0 1 865.0 1149.0H862.7Z" fill="#960000"/><circle cx="1418.4" cy="1083.8" r="16" fill="#fff" stroke="#960000" stroke-width="3.8"/><path d="M1416.1 1067.8H1418.4A16 16 0 0 1 1418.4 1099.8H1416.1Z" fill="#960000"/>
<path d="M311.5 1649.5 L346.0 1464.9 L449.8 1351.3 L588.2 1266.5 L865.0 1152.5 L1418.4 1049.0" fill="none" stroke="#00c8c8" stroke-width="6.3" stroke-linecap="round" stroke-linejoin="round" stroke-dasharray="20.2 31.5"/><rect x="295.0" y="1633.0" width="33" height="33" fill="#00c8c8"/><rect x="329.5" y="1448.4" width="33" height="33" fill="#00c8c8"/><rect x="433.3" y="1334.8" width="33" height="33" fill="#00c8c8"/><rect x="571.7" y="1250.0" width="33" height="33" fill="#00c8c8"/><rect x="848.5" y="1136.0" width="33" height="33" fill="#00c8c8"/><rect x="1401.9" y="1032.5" width="33" height="33" fill="#00c8c8"/>
<path d="M334.0 1406.2H358.0" stroke="#008000" stroke-width="2.4" stroke-linecap="butt" fill="none"/><path d="M334.0 1418.4H358.0" stroke="#008000" stroke-width="2.4" stroke-linecap="butt" fill="none"/><path d="M449.8 1308.3V1312.5" stroke="#008000" stroke-width="2" fill="none"/><path d="M437.8 1277.5H461.8" stroke="#008000" stroke-width="2.4" stroke-linecap="butt" fill="none"/><path d="M437.8 1312.5H461.8" stroke="#008000" stroke-width="2.4" stroke-linecap="butt" fill="none"/><path d="M588.2 1179.9V1181.4" stroke="#008000" stroke-width="2" fill="none"/><path d="M588.2 1216.9V1228.1" stroke="#008000" stroke-width="2" fill="none"/><path d="M576.2 1179.9H600.2" stroke="#008000" stroke-width="2.4" stroke-linecap="butt" fill="none"/><path d="M576.2 1228.1H600.2" stroke="#008000" stroke-width="2.4" stroke-linecap="butt" fill="none"/><path d="M865.0 1033.6V1041.2" stroke="#008000" stroke-width="2" fill="none"/><path d="M865.0 1076.7V1092.8" stroke="#008000" stroke-width="2" fill="none"/><path d="M853.0 1033.6H877.0" stroke="#008000" stroke-width="2.4" stroke-linecap="butt" fill="none"/><path d="M853.0 1092.8H877.0" stroke="#008000" stroke-width="2.4" stroke-linecap="butt" fill="none"/><path d="M1418.4 922.0V936.1" stroke="#008000" stroke-width="2" fill="none"/><path d="M1418.4 971.6V996.6" stroke="#008000" stroke-width="2" fill="none"/><path d="M1406.4 922.0H1430.4" stroke="#008000" stroke-width="2.4" stroke-linecap="butt" fill="none"/><path d="M1406.4 996.6H1430.4" stroke="#008000" stroke-width="2.4" stroke-linecap="butt" fill="none"/>
<path d="M346.0 1388.1V1395.4" stroke="#0000ff" stroke-width="2" fill="none"/><path d="M346.0 1395.4V1402.7" stroke="#0000ff" stroke-width="2" fill="none"/><path d="M334.0 1388.1H358.0" stroke="#0000ff" stroke-width="2.4" stroke-linecap="butt" fill="none"/><path d="M334.0 1402.7H358.0" stroke="#0000ff" stroke-width="2.4" stroke-linecap="butt" fill="none"/><path d="M449.8 1338.9V1344.8" stroke="#0000ff" stroke-width="2" fill="none"/><path d="M449.8 1344.8V1350.7" stroke="#0000ff" stroke-width="2" fill="none"/><path d="M437.8 1338.9H461.8" stroke="#0000ff" stroke-width="2.4" stroke-linecap="butt" fill="none"/><path d="M437.8 1350.7H461.8" stroke="#0000ff" stroke-width="2.4" stroke-linecap="butt" fill="none"/><path d="M588.2 1256.2V1268.2" stroke="#0000ff" stroke-width="2" fill="none"/><path d="M588.2 1268.2V1280.1" stroke="#0000ff" stroke-width="2" fill="none"/><path d="M576.2 1256.2H600.2" stroke="#0000ff" stroke-width="2.4" stroke-linecap="butt" fill="none"/><path d="M576.2 1280.1H600.2" stroke="#0000ff" stroke-width="2.4" stroke-linecap="butt" fill="none"/><path d="M865.0 1141.8V1157.1" stroke="#0000ff" stroke-width="2" fill="none"/><path d="M865.0 1157.1V1172.5" stroke="#0000ff" stroke-width="2" fill="none"/><path d="M853.0 1141.8H877.0" stroke="#0000ff" stroke-width="2.4" stroke-linecap="butt" fill="none"/><path d="M853.0 1172.5H877.0" stroke="#0000ff" stroke-width="2.4" stroke-linecap="butt" fill="none"/><path d="M1418.4 1014.7V1031.9" stroke="#0000ff" stroke-width="2" fill="none"/><path d="M1418.4 1031.9V1049.0" stroke="#0000ff" stroke-width="2" fill="none"/><path d="M1406.4 1014.7H1430.4" stroke="#0000ff" stroke-width="2.4" stroke-linecap="butt" fill="none"/><path d="M1406.4 1049.0H1430.4" stroke="#0000ff" stroke-width="2.4" stroke-linecap="butt" fill="none"/>
<path d="M346.0 1353.8V1370.4" stroke="#ff8000" stroke-width="2" fill="none"/><path d="M346.0 1401.6V1418.3" stroke="#ff8000" stroke-width="2" fill="none"/><path d="M334.0 1353.8H358.0" stroke="#ff8000" stroke-width="2.4" stroke-linecap="butt" fill="none"/><path d="M334.0 1418.3H358.0" stroke="#ff8000" stroke-width="2.4" stroke-linecap="butt" fill="none"/><path d="M449.8 1198.7V1235.9" stroke="#ff8000" stroke-width="2" fill="none"/><path d="M449.8 1267.1V1304.3" stroke="#ff8000" stroke-width="2" fill="none"/><path d="M437.8 1198.7H461.8" stroke="#ff8000" stroke-width="2.4" stroke-linecap="butt" fill="none"/><path d="M437.8 1304.3H461.8" stroke="#ff8000" stroke-width="2.4" stroke-linecap="butt" fill="none"/><path d="M588.2 1132.5V1170.9" stroke="#ff8000" stroke-width="2" fill="none"/><path d="M588.2 1202.1V1240.5" stroke="#ff8000" stroke-width="2" fill="none"/><path d="M576.2 1132.5H600.2" stroke="#ff8000" stroke-width="2.4" stroke-linecap="butt" fill="none"/><path d="M576.2 1240.5H600.2" stroke="#ff8000" stroke-width="2.4" stroke-linecap="butt" fill="none"/><path d="M865.0 1033.6V1077.2" stroke="#ff8000" stroke-width="2" fill="none"/><path d="M865.0 1108.4V1153.6" stroke="#ff8000" stroke-width="2" fill="none"/><path d="M853.0 1033.6H877.0" stroke="#ff8000" stroke-width="2.4" stroke-linecap="butt" fill="none"/><path d="M853.0 1153.6H877.0" stroke="#ff8000" stroke-width="2.4" stroke-linecap="butt" fill="none"/><path d="M1418.4 964.3V1004.3" stroke="#ff8000" stroke-width="2" fill="none"/><path d="M1418.4 1035.5V1075.5" stroke="#ff8000" stroke-width="2" fill="none"/><path d="M1406.4 964.3H1430.4" stroke="#ff8000" stroke-width="2.4" stroke-linecap="butt" fill="none"/><path d="M1406.4 1075.5H1430.4" stroke="#ff8000" stroke-width="2.4" stroke-linecap="butt" fill="none"/>
<path d="M346.0 1300.9V1313.3" stroke="#ff8000" stroke-width="2" fill="none"/><path d="M346.0 1349.9V1363.1" stroke="#ff8000" stroke-width="2" fill="none"/><path d="M334.0 1300.9H358.0" stroke="#ff8000" stroke-width="2.4" stroke-linecap="butt" fill="none"/><path d="M334.0 1363.1H358.0" stroke="#ff8000" stroke-width="2.4" stroke-linecap="butt" fill="none"/><path d="M449.8 1155.1V1191.8" stroke="#ff8000" stroke-width="2" fill="none"/><path d="M449.8 1228.4V1265.1" stroke="#ff8000" stroke-width="2" fill="none"/><path d="M437.8 1155.1H461.8" stroke="#ff8000" stroke-width="2.4" stroke-linecap="butt" fill="none"/><path d="M437.8 1265.1H461.8" stroke="#ff8000" stroke-width="2.4" stroke-linecap="butt" fill="none"/><path d="M588.2 1113.5V1151.6" stroke="#ff8000" stroke-width="2" fill="none"/><path d="M588.2 1188.2V1227.7" stroke="#ff8000" stroke-width="2" fill="none"/><path d="M576.2 1113.5H600.2" stroke="#ff8000" stroke-width="2.4" stroke-linecap="butt" fill="none"/><path d="M576.2 1227.7H600.2" stroke="#ff8000" stroke-width="2.4" stroke-linecap="butt" fill="none"/><path d="M865.0 1039.6V1083.8" stroke="#ff8000" stroke-width="2" fill="none"/><path d="M865.0 1120.4V1164.6" stroke="#ff8000" stroke-width="2" fill="none"/><path d="M853.0 1039.6H877.0" stroke="#ff8000" stroke-width="2.4" stroke-linecap="butt" fill="none"/><path d="M853.0 1164.6H877.0" stroke="#ff8000" stroke-width="2.4" stroke-linecap="butt" fill="none"/><path d="M1418.4 989.0V1027.2" stroke="#ff8000" stroke-width="2" fill="none"/><path d="M1418.4 1063.8V1101.9" stroke="#ff8000" stroke-width="2" fill="none"/><path d="M1406.4 989.0H1430.4" stroke="#ff8000" stroke-width="2.4" stroke-linecap="butt" fill="none"/><path d="M1406.4 1101.9H1430.4" stroke="#ff8000" stroke-width="2.4" stroke-linecap="butt" fill="none"/>
<path d="M346.0 1404.4V1408.9" stroke="#960000" stroke-width="2" fill="none"/><path d="M346.0 1440.1V1445.1" stroke="#960000" stroke-width="2" fill="none"/><path d="M334.0 1404.4H358.0" stroke="#960000" stroke-width="2.4" stroke-linecap="butt" fill="none"/><path d="M334.0 1445.1H358.0" stroke="#960000" stroke-width="2.4" stroke-linecap="butt" fill="none"/><path d="M449.8 1298.8V1319.9" stroke="#960000" stroke-width="2" fill="none"/><path d="M449.8 1351.1V1373.0" stroke="#960000" stroke-width="2" fill="none"/><path d="M437.8 1298.8H461.8" stroke="#960000" stroke-width="2.4" stroke-linecap="butt" fill="none"/><path d="M437.8 1373.0H461.8" stroke="#960000" stroke-width="2.4" stroke-linecap="butt" fill="none"/><path d="M588.2 1252.0V1280.6" stroke="#960000" stroke-width="2" fill="none"/><path d="M588.2 1311.8V1340.4" stroke="#960000" stroke-width="2" fill="none"/><path d="M576.2 1252.0H600.2" stroke="#960000" stroke-width="2.4" stroke-linecap="butt" fill="none"/><path d="M576.2 1340.4H600.2" stroke="#960000" stroke-width="2.4" stroke-linecap="butt" fill="none"/><path d="M865.0 1084.8V1117.4" stroke="#960000" stroke-width="2" fill="none"/><path d="M865.0 1148.6V1181.7" stroke="#960000" stroke-width="2" fill="none"/><path d="M853.0 1084.8H877.0" stroke="#960000" stroke-width="2.4" stroke-linecap="butt" fill="none"/><path d="M853.0 1181.7H877.0" stroke="#960000" stroke-width="2.4" stroke-linecap="butt" fill="none"/><path d="M1418.4 1029.5V1068.2" stroke="#960000" stroke-width="2" fill="none"/><path d="M1418.4 1099.4V1139.0" stroke="#960000" stroke-width="2" fill="none"/><path d="M1406.4 1029.5H1430.4" stroke="#960000" stroke-width="2.4" stroke-linecap="butt" fill="none"/><path d="M1406.4 1139.0H1430.4" stroke="#960000" stroke-width="2.4" stroke-linecap="butt" fill="none"/>
<path d="M853.0 1140.4H877.0" stroke="#00c8c8" stroke-width="2.4" stroke-linecap="butt" fill="none"/><path d="M853.0 1164.6H877.0" stroke="#00c8c8" stroke-width="2.4" stroke-linecap="butt" fill="none"/>
</g>
<g id="legend"><rect x="911.5" y="406.5" width="461" height="585" fill="#fff" stroke="#000" stroke-width="3"/><path d="M931.4 454.8 L1080.8 454.8" fill="none" stroke="#008000" stroke-width="6.3" stroke-linecap="round" stroke-linejoin="round"/><polygon points="1006.3,431.8 986.4,466.8 1026.2,466.8" fill="#008000" stroke="#008000" stroke-width="2" stroke-linejoin="round"/><path d="M931.4 538.4 L1080.8 538.4" fill="none" stroke="#00c8c8" stroke-width="6.3" stroke-linecap="round" stroke-linejoin="round" stroke-dasharray="20.2 31.5"/><rect x="989.8" y="521.9" width="33" height="33" fill="#00c8c8"/><path d="M931.4 621.1 L1080.8 621.1" fill="none" stroke="#0000ff" stroke-width="6.3" stroke-linecap="round" stroke-linejoin="round"/><polygon points="1006.0,598.0 1026.9,621.1 1006.0,644.2 985.1,621.1" fill="#0000ff"/><path d="M931.4 703.9 L1080.8 703.9" fill="none" stroke="#808000" stroke-width="6.3" stroke-linecap="round" stroke-linejoin="round" stroke-dasharray="20.2 31.5"/><circle cx="1006.3" cy="703.9" r="14.75" fill="#fff" stroke="#808000" stroke-width="5"/><path d="M931.3 786.8 L1081.0 786.8" fill="none" stroke="#ff8000" stroke-width="6" stroke-linecap="round" stroke-linejoin="round" stroke-dasharray="24.7 19.3 0.01 18.7"/><circle cx="1006.5" cy="786.8" r="14.85" fill="none" stroke="#ff8000" stroke-width="5.2"/><path d="M991.6 786.8H1021.4M1006.5 771.9V801.6" stroke="#ff8000" stroke-width="5" fill="none"/><path d="M931.2 870.0 L1081.1 870.0" fill="none" stroke="#ff8000" stroke-width="5.8" stroke-linecap="round" stroke-linejoin="round"/><circle cx="1006.3" cy="870.0" r="17.75" fill="#ff8000"/><circle cx="1001.1" cy="864.6" r="9" fill="#ffa64d"/><circle cx="1001.1" cy="864.6" r="6" fill="#ffd3a8"/><circle cx="1001.1" cy="864.6" r="2.8" fill="#fffaf5"/><path d="M930.9 953.2 L1081.3 953.2" fill="none" stroke="#960000" stroke-width="5.3" stroke-linecap="round" stroke-linejoin="round"/><circle cx="1006.4" cy="953.2" r="15.7" fill="#fff" stroke="#960000" stroke-width="3.8"/><path d="M1004.1 937.5H1006.4A15.7 15.7 0 0 1 1006.4 968.9H1004.1Z" fill="#960000"/></g>
<text class="sr" x="1101.6" y="477.2" font-size="68" textLength="257.4" lengthAdjust="spacingAndGlyphs">Untreated</text><text class="sr" x="1097.5" y="560.8" font-size="68" textLength="125.4" lengthAdjust="spacingAndGlyphs">M50</text><text class="sr" x="1098" y="643.5" font-size="68" textLength="82.1" lengthAdjust="spacingAndGlyphs">A0</text><text class="sr" x="1098" y="726.3" font-size="68" textLength="78.2" lengthAdjust="spacingAndGlyphs">A1</text><text class="sr" x="1098" y="809.2" font-size="68" textLength="81.7" lengthAdjust="spacingAndGlyphs">A2</text><text class="sr" x="1098" y="892.4" font-size="68" textLength="125.5" lengthAdjust="spacingAndGlyphs">A2N</text><text class="sr" x="1098" y="975.6" font-size="68" textLength="81.7" lengthAdjust="spacingAndGlyphs">A6</text>
<text class="sb" x="242.3" y="873.6" text-anchor="end">0</text><text class="sb" x="242.3" y="780.2" text-anchor="end">20</text><text class="sb" x="242.3" y="686.7" text-anchor="end">40</text><text class="sb" x="242.3" y="593.3" text-anchor="end">60</text><text class="sb" x="242.3" y="499.8" text-anchor="end">80</text><text class="sb" x="239.9" y="406.4" text-anchor="end"><tspan dx="2.4">1</tspan><tspan dx="-2.4">00</tspan></text><text class="sb" x="239.9" y="313.0" text-anchor="end"><tspan dx="2.4">1</tspan><tspan dx="-2.4">20</tspan></text><text class="sb" x="239.9" y="219.5" text-anchor="end"><tspan dx="2.4">1</tspan><tspan dx="-2.4">40</tspan></text><text class="sb" x="239.9" y="126.1" text-anchor="end"><tspan dx="2.4">1</tspan><tspan dx="-2.4">60</tspan></text><text class="sb" x="242.3" y="1668.1" text-anchor="end">0</text><text class="sb" x="242.3" y="1574.6" text-anchor="end">20</text><text class="sb" x="242.3" y="1481.1" text-anchor="end">40</text><text class="sb" x="242.3" y="1387.6" text-anchor="end">60</text><text class="sb" x="242.3" y="1294.1" text-anchor="end">80</text><text class="sb" x="239.9" y="1200.6" text-anchor="end"><tspan dx="2.4">1</tspan><tspan dx="-2.4">00</tspan></text><text class="sb" x="239.9" y="1107.1" text-anchor="end"><tspan dx="2.4">1</tspan><tspan dx="-2.4">20</tspan></text><text class="sb" x="239.9" y="1013.6" text-anchor="end"><tspan dx="2.4">1</tspan><tspan dx="-2.4">40</tspan></text><text class="sb" x="239.9" y="920.1" text-anchor="end"><tspan dx="2.4">1</tspan><tspan dx="-2.4">60</tspan></text><text class="sb" x="312.4" y="1735.5" text-anchor="middle">0</text><text class="sb" x="450.8" y="1735.5" text-anchor="middle"><tspan dx="2.4">1</tspan></text><text class="sb" x="589.2" y="1735.5" text-anchor="middle">2</text><text class="sb" x="727.6" y="1735.5" text-anchor="middle">3</text><text class="sb" x="865.9" y="1735.5" text-anchor="middle">4</text><text class="sb" x="1004.3" y="1735.5" text-anchor="middle">5</text><text class="sb" x="1142.7" y="1735.5" text-anchor="middle">6</text><text class="sb" x="1281.0" y="1735.5" text-anchor="middle">7</text><text class="sb" x="1419.4" y="1735.5" text-anchor="middle">8</text>
<text class="sb" x="302" y="148" textLength="914.4" lengthAdjust="spacingAndGlyphs">A<tspan dx="2.4">1</tspan><tspan dx="-2.4">: No hydrothermal fixation</tspan></text><text class="sb" x="348" y="1612" textLength="814.3" lengthAdjust="spacingAndGlyphs">A2: Hydrothermal fixation</text><text class="sr" font-size="93" x="705.3" y="1834.5" textLength="323.6" lengthAdjust="spacingAndGlyphs">Time (d)</text><text class="sr" font-size="94" transform="translate(105 991) rotate(-90)" textLength="310.9" lengthAdjust="spacingAndGlyphs">WA (%)</text><g id="one-foot" shape-rendering="geometricPrecision"><rect x="135.85" y="398.80" width="12.69" height="8.8" fill="#fff"/><rect x="157.73" y="398.80" width="11.81" height="8.8" fill="#fff"/><rect x="135.85" y="1193.00" width="12.69" height="8.8" fill="#fff"/><rect x="157.73" y="1193.00" width="11.81" height="8.8" fill="#fff"/><rect x="135.85" y="305.36" width="12.69" height="8.8" fill="#fff"/><rect x="157.73" y="305.36" width="11.81" height="8.8" fill="#fff"/><rect x="135.85" y="1099.50" width="12.69" height="8.8" fill="#fff"/><rect x="157.73" y="1099.50" width="11.81" height="8.8" fill="#fff"/><rect x="135.85" y="211.92" width="12.69" height="8.8" fill="#fff"/><rect x="157.73" y="211.92" width="11.81" height="8.8" fill="#fff"/><rect x="135.85" y="1006.00" width="12.69" height="8.8" fill="#fff"/><rect x="157.73" y="1006.00" width="11.81" height="8.8" fill="#fff"/><rect x="135.85" y="118.48" width="12.69" height="8.8" fill="#fff"/><rect x="157.73" y="118.48" width="11.81" height="8.8" fill="#fff"/><rect x="135.85" y="912.50" width="12.69" height="8.8" fill="#fff"/><rect x="157.73" y="912.50" width="11.81" height="8.8" fill="#fff"/><rect x="437.53" y="1727.90" width="12.69" height="8.8" fill="#fff"/><rect x="459.42" y="1727.90" width="11.81" height="8.8" fill="#fff"/><rect x="355.45" y="140.40" width="12.62" height="8.8" fill="#fff"/><rect x="377.21" y="140.40" width="11.74" height="8.8" fill="#fff"/></g>
</svg></body></html>
